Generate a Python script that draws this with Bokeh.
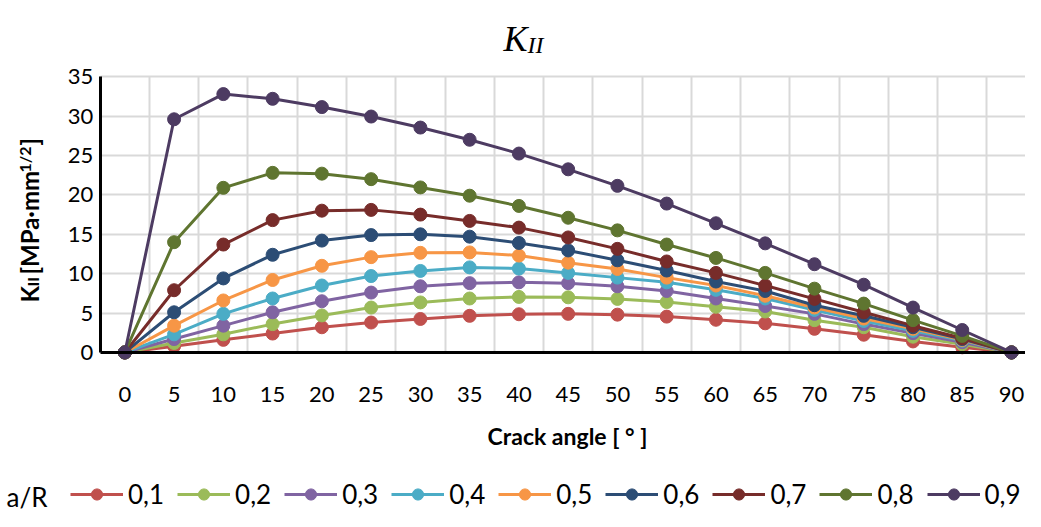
import math
from bokeh.plotting import figure
from bokeh.models import (Label, Legend, LegendItem, FixedTicker, Range1d,
                          LinearAxis, Grid)
from bokeh.embed import file_html
from bokeh.resources import INLINE

# ---------------- data ----------------
angles = [0, 5, 10, 15, 20, 25, 30, 35, 40, 45, 50, 55, 60, 65, 70, 75, 80, 85, 90]
series_names = ["0,1", "0,2", "0,3", "0,4", "0,5", "0,6", "0,7", "0,8", "0,9"]

k_01 = [0, 0.8, 1.6, 2.4, 3.2, 3.8, 4.25, 4.65, 4.85, 4.9, 4.8, 4.55, 4.15, 3.7, 3.0, 2.25, 1.4, 0.65, 0]
k_02 = [0, 1.2, 2.3, 3.6, 4.7, 5.7, 6.35, 6.85, 7.05, 7.0, 6.8, 6.4, 5.8, 5.2, 4.1, 3.2, 2.0, 1.05, 0]
k_03 = [0, 1.7, 3.4, 5.1, 6.5, 7.6, 8.4, 8.8, 8.9, 8.8, 8.4, 7.8, 6.85, 5.9, 4.9, 3.6, 2.45, 1.3, 0]
k_04 = [0, 2.3, 4.9, 6.85, 8.5, 9.7, 10.35, 10.8, 10.65, 10.1, 9.5, 8.9, 7.95, 6.85, 5.4, 4.0, 2.75, 1.5, 0]
k_05 = [0, 3.4, 6.6, 9.2, 11.0, 12.1, 12.65, 12.7, 12.3, 11.4, 10.6, 9.5, 8.5, 7.2, 5.7, 4.3, 3.0, 1.6, 0]
k_06 = [0, 5.1, 9.4, 12.4, 14.2, 14.9, 15.0, 14.7, 13.9, 12.95, 11.7, 10.4, 9.0, 7.8, 6.0, 4.65, 3.2, 1.7, 0]
k_07 = [0, 7.9, 13.7, 16.8, 18.0, 18.1, 17.5, 16.7, 15.85, 14.6, 13.15, 11.55, 10.1, 8.5, 6.8, 5.1, 3.4, 1.8, 0]
k_08 = [0, 14.0, 20.9, 22.8, 22.7, 22.0, 20.95, 19.9, 18.6, 17.1, 15.5, 13.7, 12.0, 10.1, 8.1, 6.2, 4.1, 2.1, 0]
k_09 = [0, 29.6, 32.8, 32.2, 31.15, 29.95, 28.55, 27.0, 25.25, 23.25, 21.15, 18.9, 16.4, 13.85, 11.2, 8.6, 5.7, 2.85, 0]

y_ticks = [0, 5, 10, 15, 20, 25, 30, 35]

series_values = [k_01, k_02, k_03, k_04, k_05, k_06, k_07, k_08, k_09]
colors = ["#C0504D", "#9BBB59", "#8064A2", "#4BACC6", "#F79646",
          "#2C4D75", "#772C2A", "#5F7530", "#4D3B62"]

# ---------------- figure (frame = whole canvas) ----------------
X0, X1 = -12.62, 91.42
Y0, Y1 = -20.19, 44.68
p = figure(width=1025, height=511, output_backend="svg", toolbar_location=None,
           x_range=Range1d(X0, X1), y_range=Range1d(Y0, Y1),
           x_axis_type=None, y_axis_type=None, min_border=0)
p.outline_line_color = None
p.background_fill_color = "white"
p.border_fill_color = "white"

# grids
GRID_COLOR = "#D9D9D9"
grid_x = [a - 2.5 for a in angles]
xgrid = Grid(dimension=0, ticker=FixedTicker(ticks=grid_x),
             grid_line_color=GRID_COLOR, grid_line_width=2)
ygrid = Grid(dimension=1, ticker=FixedTicker(ticks=y_ticks),
             grid_line_color=GRID_COLOR, grid_line_width=2)
if "cross_bounds" in Grid.properties():
    xgrid.cross_bounds = (y_ticks[0], y_ticks[-1])
    ygrid.cross_bounds = (grid_x[0], X1)
    p.add_layout(xgrid)
    p.add_layout(ygrid)
else:
    p.segment(x0=grid_x, y0=[y_ticks[0]] * len(grid_x), x1=grid_x,
              y1=[y_ticks[-1]] * len(grid_x), line_color=GRID_COLOR, line_width=2)
    p.segment(x0=[grid_x[0]] * len(y_ticks), y0=y_ticks, x1=[X1] * len(y_ticks),
              y1=y_ticks, line_color=GRID_COLOR, line_width=2)

# axes placed at the data-area edges
xaxis = LinearAxis(ticker=FixedTicker(ticks=angles), fixed_location=0,
                   bounds=(grid_x[0], X1))
yaxis = LinearAxis(ticker=FixedTicker(ticks=y_ticks), fixed_location=grid_x[0],
                   bounds=(y_ticks[0], y_ticks[-1]))
for ax in (xaxis, yaxis):
    ax.major_tick_line_color = None
    ax.minor_tick_line_color = None
    ax.major_tick_out = 0
    ax.major_tick_in = 0
    ax.axis_line_color = "black"
    ax.axis_line_width = 3
    ax.major_label_text_font = "Lato"
    ax.major_label_text_font_size = "22px"
    ax.major_label_text_color = "black"
xaxis.major_label_standoff = 35
yaxis.major_label_standoff = 7
p.add_layout(xaxis, "below")
p.add_layout(yaxis, "left")

# series
items = []
for name, vals, c in zip(series_names, series_values, colors):
    lr = p.line(angles, vals, line_width=3, line_color=c)
    sr = p.scatter(angles, vals, size=13, fill_color=c, line_color=c)
    items.append(LegendItem(label=name, renderers=[lr, sr]))

legend = Legend(items=items, orientation="horizontal", location=(70, 1),
                border_line_color=None, background_fill_alpha=0,
                padding=0, margin=0, spacing=13, label_standoff=5,
                glyph_width=53, glyph_height=28,
                label_text_font="Lato", label_text_font_size="26px",
                label_text_color="black")
p.add_layout(legend)

def lab(text, x, y, size, font="Lato", style="normal", angle=0.0, align="left"):
    p.add_layout(Label(x=x, y=y, x_units="screen", y_units="screen", text=text,
                       angle=angle, text_font=font, text_font_style=style,
                       text_font_size=size, text_color="black",
                       text_align=align, text_baseline="alphabetic"))

# legend title
lab("a/R", 6, 15, "26px")

# chart title K_II
lab("K", 503, 473, "36px", font="Liberation Serif", style="italic")
lab("II", 527, 467, "24px", font="Liberation Serif", style="italic")

# x axis title
lab("Crack angle [ \u00b0 ]", 567, 76, "23px", style="bold", align="center")

# y axis title K_II [MPa·mm^1/2]
ylab_parts = [("K", 29, 209, "24px"), ("II", 32, 225, "16px"),
              ("[MPa\u00b7mm", 29, 237, "24px"), ("1/2", 24, 339, "16px"),
              ("]", 29, 366, "24px")]
for txt, sx, sy, fs in ylab_parts:
    lab(txt, sx, sy, fs, style="bold", angle=math.pi / 2)

open("out.html", "w").write(file_html(p, INLINE))
